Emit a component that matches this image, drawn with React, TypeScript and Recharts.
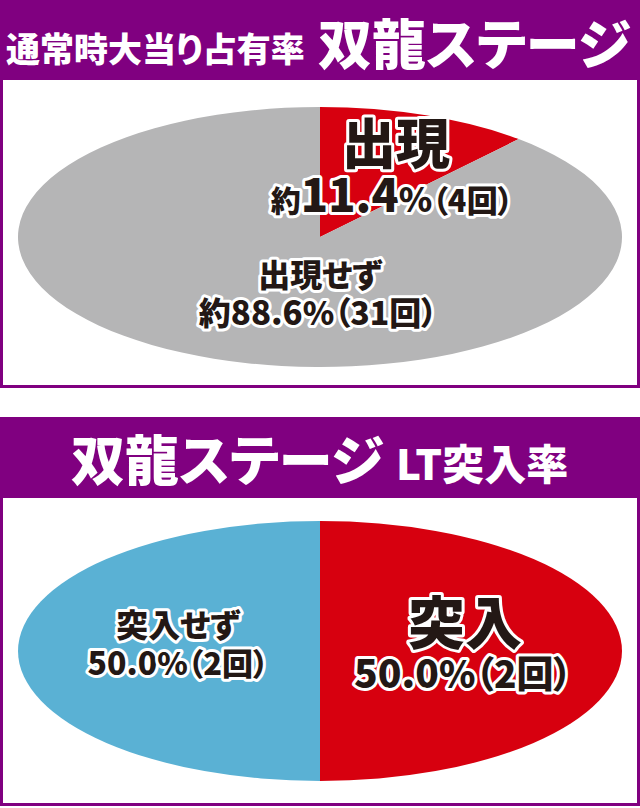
import React from "react";
import { PieChart, Pie, Cell } from "recharts";

// 通常時大当り占有率
const occurrenceCategories = ["出現", "出現せず"];
const occurrenceCounts = [4, 31];
const occurrenceColors = ["#d7000f", "#b5b5b6"];

// LT突入率
const entryCategories = ["突入", "突入せず"];
const entryCounts = [2, 2];
const entryColors = ["#d7000f", "#5ab1d4"];

const PURPLE = "#800080";
const INK = "#231815";
const FONT = '"Noto Sans CJK JP", "Noto Sans", sans-serif';

const RADIUS = 302;
const SQUASH = 130 / 302;

type LabelStyle = {
  tx: number;
  ty: number;
  titleSize: number;
  vx: number;
  vy: number;
  prefixSize: number;
  numSize: number;
  pctSize: number;
  countSize: number;
};

const occurrenceLabelStyles: LabelStyle[] = [
  { tx: 76, ty: -73, titleSize: 54, vx: 72, vy: -25, prefixSize: 30, numSize: 45, pctSize: 34, countSize: 31 },
  { tx: 0, ty: 50, titleSize: 32, vx: -2, vy: 88, prefixSize: 32, numSize: 33, pctSize: 32, countSize: 32 },
];

const entryLabelStyles: LabelStyle[] = [
  { tx: 145, ty: -7, titleSize: 57, vx: 143, vy: 37, prefixSize: 38, numSize: 39, pctSize: 37, countSize: 37 },
  { tx: -142, ty: -14, titleSize: 32, vx: -142, vy: 24, prefixSize: 32, numSize: 32, pctSize: 31, countSize: 31 },
];

const textBase = {
  fill: INK,
  stroke: "#fff",
  strokeWidth: 6,
  strokeLinejoin: "round" as const,
  paintOrder: "stroke",
  fontFamily: FONT,
  fontWeight: 900,
  textAnchor: "middle" as const,
  style: { fontFeatureSettings: '"palt"' },
};

const makeLabel =
  (names: string[], counts: number[], prefix: string, styles: LabelStyle[]) =>
  (props: any) => {
    const { cx, cy, index } = props;
    const s = styles[index];
    const total = counts.reduce((a, b) => a + b, 0);
    const pct = ((counts[index] / total) * 100).toFixed(1);
    return (
      <g transform={`translate(${cx},${cy}) scale(1,${1 / SQUASH})`}>
        <text x={s.tx} y={s.ty} fontSize={s.titleSize} {...textBase}>
          {names[index]}
        </text>
        <text x={s.vx} y={s.vy} {...textBase}>
          {prefix && <tspan fontSize={s.prefixSize}>{prefix}</tspan>}
          <tspan fontSize={s.numSize}>{pct}</tspan>
          <tspan fontSize={s.pctSize}>%</tspan>
          <tspan fontSize={s.countSize}>（{counts[index]}回）</tspan>
        </text>
      </g>
    );
  };

const EllipsePie: React.FC<{
  names: string[];
  counts: number[];
  colors: string[];
  prefix: string;
  styles: LabelStyle[];
  centerY: number;
}> = ({ names, counts, colors, prefix, styles, centerY }) => {
  const data = names.map((name, i) => ({ name, value: counts[i] }));
  return (
    <div
      style={{
        position: "absolute",
        left: 0,
        top: centerY - RADIUS,
        width: 640,
        height: RADIUS * 2,
        transform: `scaleY(${SQUASH})`,
        transformOrigin: "50% 50%",
      }}
    >
      <PieChart width={640} height={RADIUS * 2} margin={{ top: 0, right: 0, bottom: 0, left: 0 }}>
        <Pie
          data={data}
          dataKey="value"
          nameKey="name"
          cx={320}
          cy={RADIUS}
          outerRadius={RADIUS}
          startAngle={90}
          endAngle={-270}
          stroke="none"
          labelLine={false}
          label={makeLabel(names, counts, prefix, styles)}
          isAnimationActive={false}
        >
          {data.map((entry, i) => (
            <Cell key={`cell-${entry.name}`} fill={colors[i]} />
          ))}
        </Pie>
      </PieChart>
    </div>
  );
};

const Header: React.FC<{ top: number; children: React.ReactNode }> = ({ top, children }) => (
  <svg
    width={640}
    height={81}
    style={{ position: "absolute", left: 0, top, background: PURPLE, display: "block" }}
  >
    {children}
  </svg>
);

const headText = {
  fill: "#fff",
  fontFamily: FONT,
  fontWeight: 900,
  style: { fontFeatureSettings: '"palt"' },
};

const Panel: React.FC<{ top: number }> = ({ top }) => (
  <div
    style={{
      position: "absolute",
      left: 0,
      top,
      width: 640,
      height: 308,
      boxSizing: "border-box",
      border: `3px solid ${PURPLE}`,
      borderTop: "none",
      background: "#fff",
    }}
  />
);

export default function App() {
  return (
    <div
      style={{
        position: "absolute",
        left: 0,
        top: 0,
        width: 640,
        height: 808,
        background: "#fff",
        overflow: "hidden",
      }}
    >
      <Header top={0}>
        <text x={6} y={62} fontSize={34} {...headText}>
          通常時大当り占有率
        </text>
        <text x={318} y={65} fontSize={54} {...headText}>
          双龍ステージ
        </text>
      </Header>
      <Panel top={80} />
      <EllipsePie
        names={occurrenceCategories}
        counts={occurrenceCounts}
        colors={occurrenceColors}
        prefix="約"
        styles={occurrenceLabelStyles}
        centerY={237}
      />

      <Header top={417}>
        <text x={71} y={64} fontSize={54} {...headText}>
          双龍ステージ
        </text>
        <text x={396} y={63} fontSize={42} {...headText}>
          LT突入率
        </text>
      </Header>
      <Panel top={498} />
      <EllipsePie
        names={entryCategories}
        counts={entryCounts}
        colors={entryColors}
        prefix=""
        styles={entryLabelStyles}
        centerY={651}
      />
    </div>
  );
}
